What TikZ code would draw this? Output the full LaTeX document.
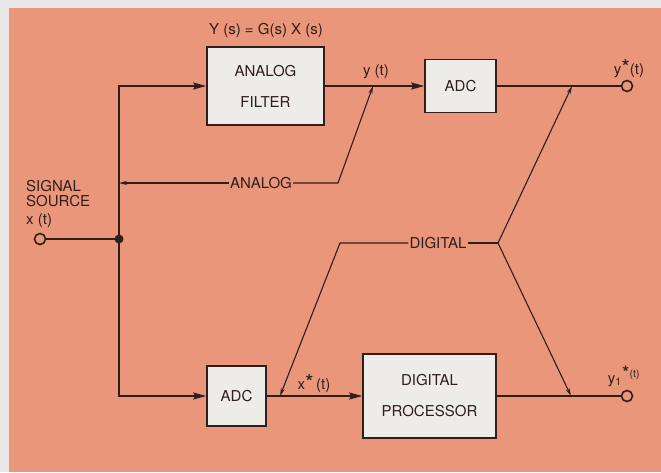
\documentclass[tikz,border=0pt]{standalone}
\usepackage{fontspec}
\setmainfont{TeX Gyre Heros}
\usetikzlibrary{arrows.meta, positioning, calc}
\definecolor{salmon}{RGB}{234,150,122}
\definecolor{paper}{RGB}{233,231,229}
\definecolor{boxgray}{RGB}{238,236,233}
\definecolor{ink}{RGB}{48,30,26}
\newcommand{\starmark}{\raisebox{-1pt}{\fontsize{22}{22}\selectfont *}}

\begin{document}
\begin{tikzpicture}[
  x=1pt, y=-1pt,
  blk/.style={draw=ink, line width=1.6pt, fill=boxgray, text=ink, align=center, inner sep=0pt, font=\fontsize{15}{31}\selectfont},
  sig/.style={draw=ink, line width=1.8pt, -{Stealth[length=13pt,width=7pt,inset=2pt]}},
  wire/.style={draw=ink, line width=1.8pt},
  note/.style={draw=ink, line width=1.1pt},
  notearr/.style={note, -{Stealth[length=8pt,width=4pt]}},
  port/.style={circle, draw=ink, line width=1.6pt, fill=salmon, minimum size=11pt, inner sep=0pt},
  lbl/.style={text=ink, inner sep=1pt, font=\fontsize{15}{17}\selectfont}
  ]
  \useasboundingbox (0,0) rectangle (661,472);
  \fill[paper] (0,0) rectangle (661,472);
  \fill[salmon] (9,8) rectangle (661,472);

  \node[blk, minimum width=117pt, minimum height=78pt] (filter) at (265.5,86) {ANALOG\\FILTER};
  \node[blk, minimum width=71pt, minimum height=53pt] (adcA) at (460.5,86) {ADC};
  \node[blk, minimum width=59pt, minimum height=60pt] (adcD) at (236.5,396) {ADC};
  \node[blk, minimum width=133pt, minimum height=84pt] (proc) at (429.5,396) {DIGITAL\\PROCESSOR};

  \node[port] (src) at (40,239) {};
  \node[port] (outA) at (627,86) {};
  \node[port] (outD) at (627,396) {};

  \coordinate (jn) at (119,239);
  \coordinate (tv) at (119,183);
  \coordinate (ka) at (338,183);
  \coordinate (ta) at (373,86);
  \coordinate (kd) at (340,243);
  \coordinate (tc) at (280,396);
  \coordinate (jd) at (498,243);
  \coordinate (tb) at (572,86);
  \coordinate (td) at (571,396);

  \node[lbl] (eq) at (266,30) {Y (s) = G(s) X (s)};
  \node[lbl, anchor=west, align=left, inner sep=0pt, font=\fontsize{15}{14.5}\selectfont] (srclbl) at (26,204) {SIGNAL\\SOURCE\\[4pt]x (t)};
  \node[lbl] (ylbl) at (376,72) {y (t)};
  \node[lbl] (ystar) at (629,69) {y\starmark(t)};
  \node[lbl] (xstar) at (314,384) {x\starmark\,(t)};
  \node[lbl] (y1star) at (624,376) {y\textsubscript{1}\raisebox{3pt}{\fontsize{20}{20}\selectfont *}\textsuperscript{(t)}};
  \node[lbl] (analog) at (261,183) {ANALOG};
  \node[lbl] (digital) at (438,243) {DIGITAL};

  \draw[wire] (src) -- (jn);
  \fill[ink] (jn) circle (4.5pt);
  \draw[sig] (jn) |- (filter.west);
  \draw[sig] (jn) |- (adcD.west);
  \draw[sig] (filter) -- (adcA);
  \draw[wire] (adcA) -- (outA);
  \draw[sig] (adcD) -- (proc);
  \draw[wire] (proc) -- (outD);

  \draw[notearr] (analog.west) -- (tv);
  \draw[notearr] (analog.east) -- (ka) -- (ta);
  \draw[notearr] (digital.west) -- (kd) -- (tc);
  \draw[note] (digital.east) -- (jd);
  \draw[notearr] (jd) -- (tb);
  \draw[notearr] (jd) -- (td);
\end{tikzpicture}
\end{document}
